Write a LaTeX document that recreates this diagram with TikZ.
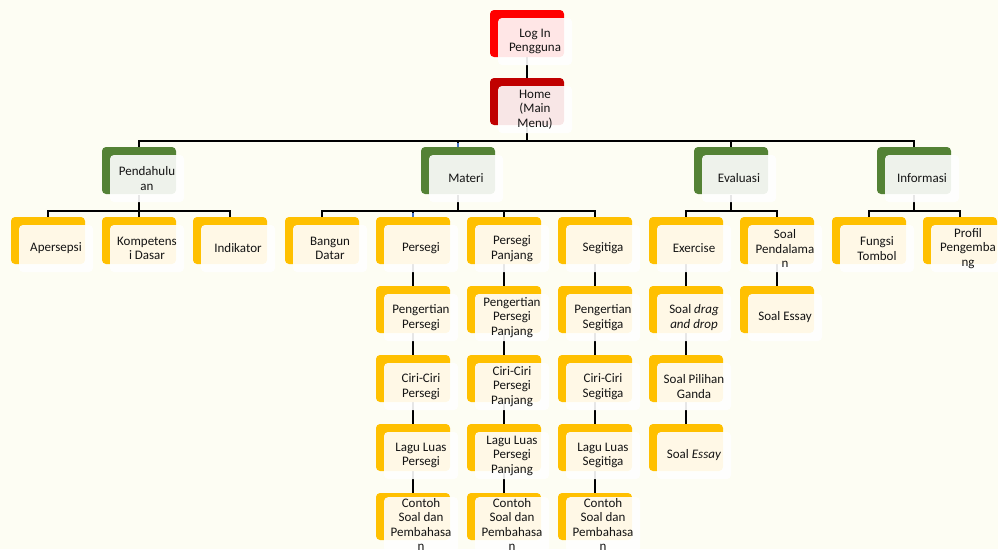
\documentclass[tikz,border=0pt]{standalone}
\usepackage{fontspec}
\setmainfont{Carlito}
\definecolor{bgc}{RGB}{253,253,243}
\definecolor{redA}{RGB}{255,0,0}
\definecolor{redB}{RGB}{192,0,0}
\definecolor{grn}{RGB}{84,130,53}
\definecolor{ylw}{RGB}{255,192,0}
\definecolor{stub}{RGB}{68,114,196}
\definecolor{txt}{RGB}{20,20,20}
\tikzset{
  backbox/.style={rectangle, rounded corners=4pt, minimum width=74pt, minimum height=47pt, inner sep=0pt},
  frontbox/.style={rectangle, rounded corners=4pt, minimum width=74pt, minimum height=47pt, inner sep=1pt,
    fill=white, fill opacity=0.9, text opacity=1, text=txt, align=center,
    font=\fontsize{13}{14.5}\selectfont},
  conn/.style={line width=2.9pt, draw=black, line join=miter},
  bluestub/.style={line width=2.9pt, draw=stub}
}
% #1 name, #2 x0, #3 y0, #4 colour, #5 text
\newcommand\mkbox[5]{%
  \node[backbox, fill=#4] (#1-b) at (#2+37, #3+23.5) {};
  \node[frontbox] (#1) at (#2+45, #3+31.5) {#5};
}
\begin{document}
\begin{tikzpicture}[x=1pt, y=-1pt]
\useasboundingbox (0,0) rectangle (998,549);
\fill[bgc] (0,0) rectangle (998,549);

% ---------- connectors (drawn first, behind the boxes) ----------
\coordinate (c-login) at (527,57);
\coordinate (c-home)  at (527,78);
\draw[conn] (c-login) -- (c-home);
% level 1
\foreach \cx in {139,458,731,914}{
  \draw[conn] (527,125) |- (\cx,141) -- (\cx,147);
}
% level 2 buses
\foreach \px/\cx in {139/48,139/139,139/230,
                     458/322,458/413,458/504,458/595,
                     731/686,731/777,
                     914/869,914/960}{
  \draw[conn] (\px,195) |- (\cx,211) -- (\cx,217);
}
% vertical chains
\foreach \cx in {413,504,595}{
  \draw[conn] (\cx,264) -- (\cx,493);
}
\draw[conn] (686,264) -- (686,424);
\draw[conn] (777,264) -- (777,286);
% blue stubs
\draw[bluestub] (458,142.5) -- (458,147);
\draw[bluestub] (413,212.5) -- (413,217);

% ---------- boxes ----------
\mkbox{login}{490}{10}{redA}{Log In\\Pengguna}
\mkbox{home}{490}{78}{redB}{Home\\(Main\\Menu)}

\mkbox{pend}{102}{147}{grn}{Pendahulu\\an}
\mkbox{materi}{421}{147}{grn}{Materi}
\mkbox{eval}{694}{147}{grn}{Evaluasi}
\mkbox{info}{877}{147}{grn}{Informasi}

\mkbox{aper}{11}{217}{ylw}{Apersepsi}
\mkbox{komp}{102}{217}{ylw}{Kompetens\\i Dasar}
\mkbox{indi}{193}{217}{ylw}{Indikator}

\mkbox{bangun}{285}{217}{ylw}{Bangun\\Datar}
\mkbox{persegi}{376}{217}{ylw}{Persegi}
\mkbox{pp}{467}{217}{ylw}{Persegi\\Panjang}
\mkbox{segi}{558}{217}{ylw}{Segitiga}

\mkbox{exer}{649}{217}{ylw}{Exercise}
\mkbox{pdlm}{740}{217}{ylw}{Soal\\Pendalama\\n}
\mkbox{fungsi}{832}{217}{ylw}{Fungsi\\Tombol}
\mkbox{profil}{923}{217}{ylw}{Profil\\Pengemba\\ng}

\mkbox{ps1}{376}{286}{ylw}{Pengertian\\Persegi}
\mkbox{ps2}{376}{355}{ylw}{Ciri-Ciri\\Persegi}
\mkbox{ps3}{376}{424}{ylw}{Lagu Luas\\Persegi}
\mkbox{ps4}{376}{493}{ylw}{Contoh\\Soal dan\\Pembahasa\\n}

\mkbox{pp1}{467}{286}{ylw}{Pengertian\\Persegi\\Panjang}
\mkbox{pp2}{467}{355}{ylw}{Ciri-Ciri\\Persegi\\Panjang}
\mkbox{pp3}{467}{424}{ylw}{Lagu Luas\\Persegi\\Panjang}
\mkbox{pp4}{467}{493}{ylw}{Contoh\\Soal dan\\Pembahasa\\n}

\mkbox{sg1}{558}{286}{ylw}{Pengertian\\Segitiga}
\mkbox{sg2}{558}{355}{ylw}{Ciri-Ciri\\Segitiga}
\mkbox{sg3}{558}{424}{ylw}{Lagu Luas\\Segitiga}
\mkbox{sg4}{558}{493}{ylw}{Contoh\\Soal dan\\Pembahasa\\n}

\mkbox{ex1}{649}{286}{ylw}{Soal \textit{drag}\\\textit{and drop}}
\mkbox{ex2}{649}{355}{ylw}{Soal Pilihan\\Ganda}
\mkbox{ex3}{649}{424}{ylw}{Soal \textit{Essay}}
\mkbox{pd1}{740}{286}{ylw}{Soal Essay}
\end{tikzpicture}
\end{document}
